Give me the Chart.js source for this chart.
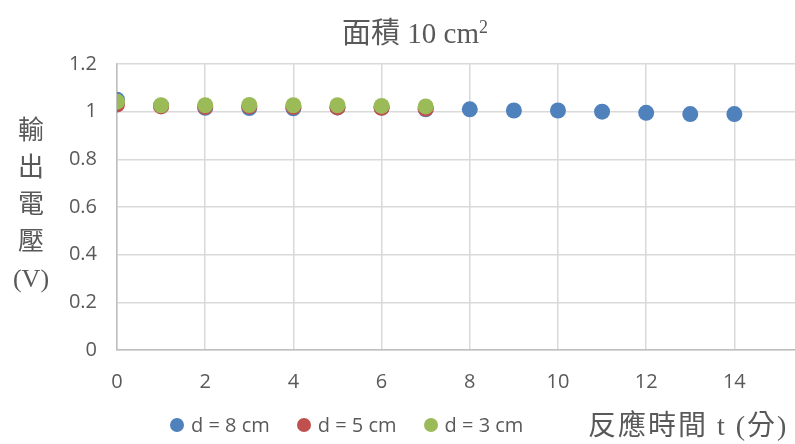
<!DOCTYPE html>
<html>
<head>
<meta charset="utf-8">
<script src="https://cdn.jsdelivr.net/npm/chart.js@4/dist/chart.umd.min.js"></script>
<style>
  html, body { margin: 0; padding: 0; background: #fff; }
  #wrap { position: relative; width: 795px; height: 444px; overflow: hidden; background: #fff; }
  #chart { position: absolute; left: 0; top: 0; }
  .txt { position: absolute; color: #595959; white-space: nowrap; }
  #title { left: 0; width: 830px; top: 9px; text-align: center;
           font: 29px "Liberation Serif", "Noto Sans CJK TC", serif; }
  #ytitle { left: 6px; top: 112px; width: 50px; text-align: center;
            font: 26px "Liberation Serif", "Noto Sans CJK TC", serif; line-height: 37px; }
  #xtitle { left: 588px; top: 403px; font: 28px "Liberation Serif", "Noto Sans CJK TC", serif; letter-spacing: 2px; }
  #legend { left: 170px; top: 411px; font: 20px "Open Sans", sans-serif; display: flex; align-items: center; }
  .item { display: flex; align-items: center; margin-right: 27px; }
  .dot { width: 14px; height: 14px; border-radius: 50%; margin-right: 7px; }
</style>
</head>
<body>
<div id="wrap">
  <canvas id="chart" width="854" height="444"></canvas>
  <div id="title" class="txt">面積 10 cm<sup style="font-size:18px;vertical-align:10px;line-height:0">2</sup></div>
  <div id="ytitle" class="txt">輸<br>出<br>電<br>壓<br>(V)</div>
  <div id="xtitle" class="txt">反應時間 t (分)</div>
  <div id="legend" class="txt"></div>
</div>
<script>
// Reaction time (minutes) and output voltage (V) for each electrode spacing
const time8 = [0, 1, 2, 3, 4, 5, 6, 7, 8, 9, 10, 11, 12, 13, 14];
const volt8 = [1.05, 1.025, 1.016, 1.015, 1.014, 1.018, 1.017, 1.01, 1.01, 1.005, 1.005, 1.0, 0.995, 0.99, 0.99];
const time5 = [0, 1, 2, 3, 4, 5, 6, 7];
const volt5 = [1.03, 1.022, 1.02, 1.022, 1.02, 1.018, 1.016, 1.013];
const time3 = [0, 1, 2, 3, 4, 5, 6, 7];
const volt3 = [1.042, 1.027, 1.027, 1.028, 1.027, 1.027, 1.024, 1.022];

const seriesNames = ['d = 8 cm', 'd = 5 cm', 'd = 3 cm'];
const seriesColors = ['#4F81BD', '#C0504D', '#9BBB59'];

const toPoints = (xs, ys) => xs.map((x, i) => ({ x: x, y: ys[i] }));
const seriesData = [toPoints(time8, volt8), toPoints(time5, volt5), toPoints(time3, volt3)];

// later series sit on top of earlier ones
const datasets = seriesData.map((pts, i) => ({
  label: seriesNames[i],
  data: pts,
  backgroundColor: seriesColors[i],
  borderWidth: 0,
  pointRadius: 8,
  pointHoverRadius: 8,
  order: seriesData.length - 1 - i
}));

const tickFont = { family: 'Open Sans', size: 20 };
const plainNumber = (v) => String(Math.round(v * 100) / 100);

new Chart(document.getElementById('chart'), {
  type: 'scatter',
  data: { datasets: datasets },
  options: {
    responsive: false,
    animation: false,
    devicePixelRatio: 1,
    layout: { padding: { top: 64, right: 12, left: 0, bottom: 0 } },
    plugins: { legend: { display: false }, tooltip: { enabled: false } },
    scales: {
      x: {
        type: 'linear',
        min: 0,
        max: 16,
        ticks: { stepSize: 2, color: '#595959', font: tickFont, padding: 20, maxRotation: 0, callback: plainNumber },
        grid: { color: '#D9D9D9', lineWidth: 1.5, drawTicks: false },
        border: { color: '#BFBFBF', width: 1.5 },
        afterFit: (scale) => { scale.height = 94; }
      },
      y: {
        min: 0,
        max: 1.2,
        ticks: { stepSize: 0.2, color: '#595959', font: tickFont, padding: 20, callback: plainNumber },
        grid: { color: '#D9D9D9', lineWidth: 1.5, drawTicks: false },
        border: { color: '#BFBFBF', width: 1.5 },
        afterFit: (scale) => { scale.width = 117; }
      }
    }
  }
});

// legend row
const legend = document.getElementById('legend');
seriesNames.forEach((name, i) => {
  const item = document.createElement('div');
  item.className = 'item';
  const dot = document.createElement('span');
  dot.className = 'dot';
  dot.style.background = seriesColors[i];
  const label = document.createElement('span');
  label.textContent = name;
  item.appendChild(dot);
  item.appendChild(label);
  legend.appendChild(item);
});
</script>
</body>
</html>
